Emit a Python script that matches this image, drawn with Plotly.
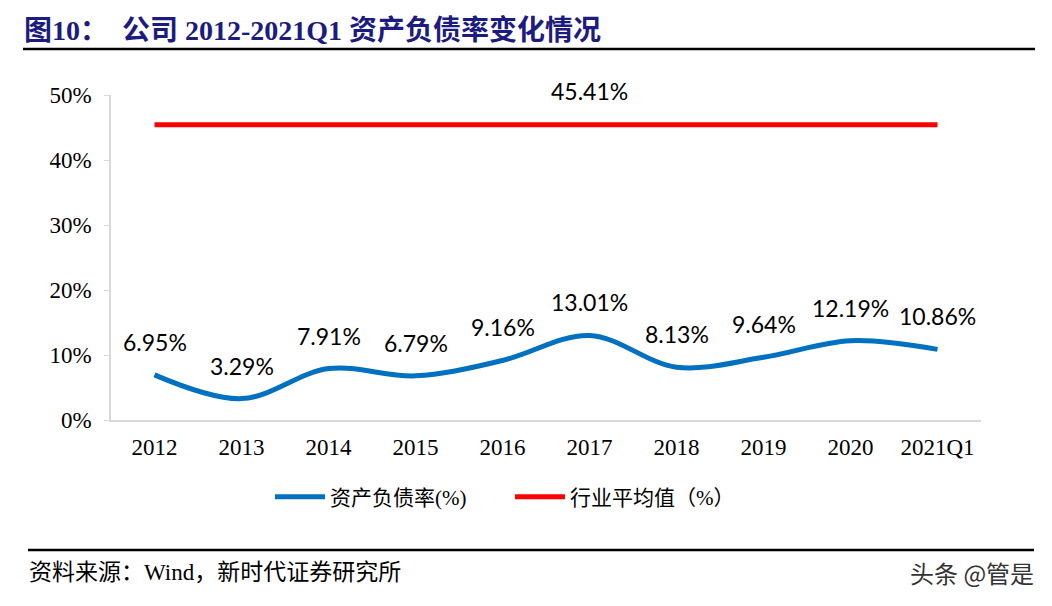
import plotly.graph_objects as go

years = ["2012", "2013", "2014", "2015", "2016", "2017", "2018", "2019", "2020", "2021Q1"]
debt_ratio = [6.95, 3.29, 7.91, 6.79, 9.16, 13.01, 8.13, 9.64, 12.19, 10.86]
industry_avg = [45.41] * len(years)
y_ticks = [0, 10, 20, 30, 40, 50]
y_tick_text = ["0%", "10%", "20%", "30%", "40%", "50%"]

# page body adds an 8px margin, so work in shifted pixel coords
OFF = 8
W, H = 1052 - OFF, 606 - OFF
L, R, T, B = 111 - OFF, 981 - OFF, 95 - OFF, 420 - OFF


def px_x(p):
    return (p - OFF - L) / (R - L)


def px_y(p):
    return (B - (p - OFF)) / (B - T)


serif = "Liberation Serif, Noto Sans CJK SC"
label_font = "Lato, Noto Sans, sans-serif"

fig = go.Figure()
fig.add_trace(go.Scatter(
    x=years, y=debt_ratio, mode="lines", name="资产负债率(%)",
    line=dict(color="#0070C0", width=5, shape="spline", smoothing=1.0),
))
fig.add_trace(go.Scatter(
    x=years, y=industry_avg, mode="lines", name="行业平均值（%）",
    line=dict(color="#FF0000", width=5),
))

# category index keeps "2012" etc. from being read as numbers
for i, v in enumerate(debt_ratio):
    fig.add_annotation(x=i, y=v, text=f"{v:.2f}%", showarrow=False,
                       yshift=33, font=dict(family=label_font, size=23, color="#000"))
fig.add_annotation(x=5, y=industry_avg[5], text=f"{industry_avg[5]:.2f}%",
                   showarrow=False, yshift=34,
                   font=dict(family=label_font, size=23, color="#000"))

# title and rules
fig.add_annotation(xref="paper", yref="paper", x=px_x(22), y=px_y(30),
                   xanchor="left", yanchor="middle", showarrow=False,
                   text="<b>图10：  公司 2012-2021Q1 资产负债率变化情况</b>",
                   font=dict(family=serif, size=28, color="#1C1C80"))
fig.add_shape(type="line", xref="paper", yref="paper",
              x0=px_x(23), x1=px_x(1035), y0=px_y(49), y1=px_y(49),
              line=dict(color="#000", width=2.5))
fig.add_shape(type="line", xref="paper", yref="paper",
              x0=px_x(28), x1=px_x(1034), y0=px_y(550), y1=px_y(550),
              line=dict(color="#000", width=2.5))
fig.add_annotation(xref="paper", yref="paper", x=px_x(27), y=px_y(572),
                   xanchor="left", yanchor="middle", showarrow=False,
                   text="资料来源：Wind，新时代证券研究所",
                   font=dict(family=serif, size=23, color="#000"))
fig.add_annotation(xref="paper", yref="paper", x=px_x(1036), y=px_y(572),
                   xanchor="right", yanchor="middle", showarrow=False,
                   text="头条 @管是",
                   font=dict(family="Noto Sans CJK SC", size=24, color="#333"))

fig.update_layout(
    width=W, height=H,
    margin=dict(l=L, r=W - R, t=T, b=H - B),
    plot_bgcolor="white", paper_bgcolor="white",
    showlegend=True,
    legend=dict(orientation="h", x=px_x(270), xanchor="left", y=px_y(497), yanchor="middle",
                font=dict(family=serif, size=21, color="#000"),
                itemwidth=50, entrywidthmode="pixels", entrywidth=175),
    xaxis=dict(type="category", range=[-0.5, 9.5], showline=True, linecolor="#D9D9D9",
               linewidth=1.5, ticks="", showgrid=False, ticklabelstandoff=6,
               tickfont=dict(family=serif, size=23, color="#000")),
    yaxis=dict(range=[0, 50], tickvals=y_ticks, ticktext=y_tick_text,
               showline=True, linecolor="#D9D9D9", linewidth=1.5,
               ticks="outside", ticklen=5, tickcolor="#D9D9D9",
               showgrid=False, zeroline=False, ticklabelstandoff=8,
               tickfont=dict(family=serif, size=23, color="#000")),
)

fig.write_html("out.html")
